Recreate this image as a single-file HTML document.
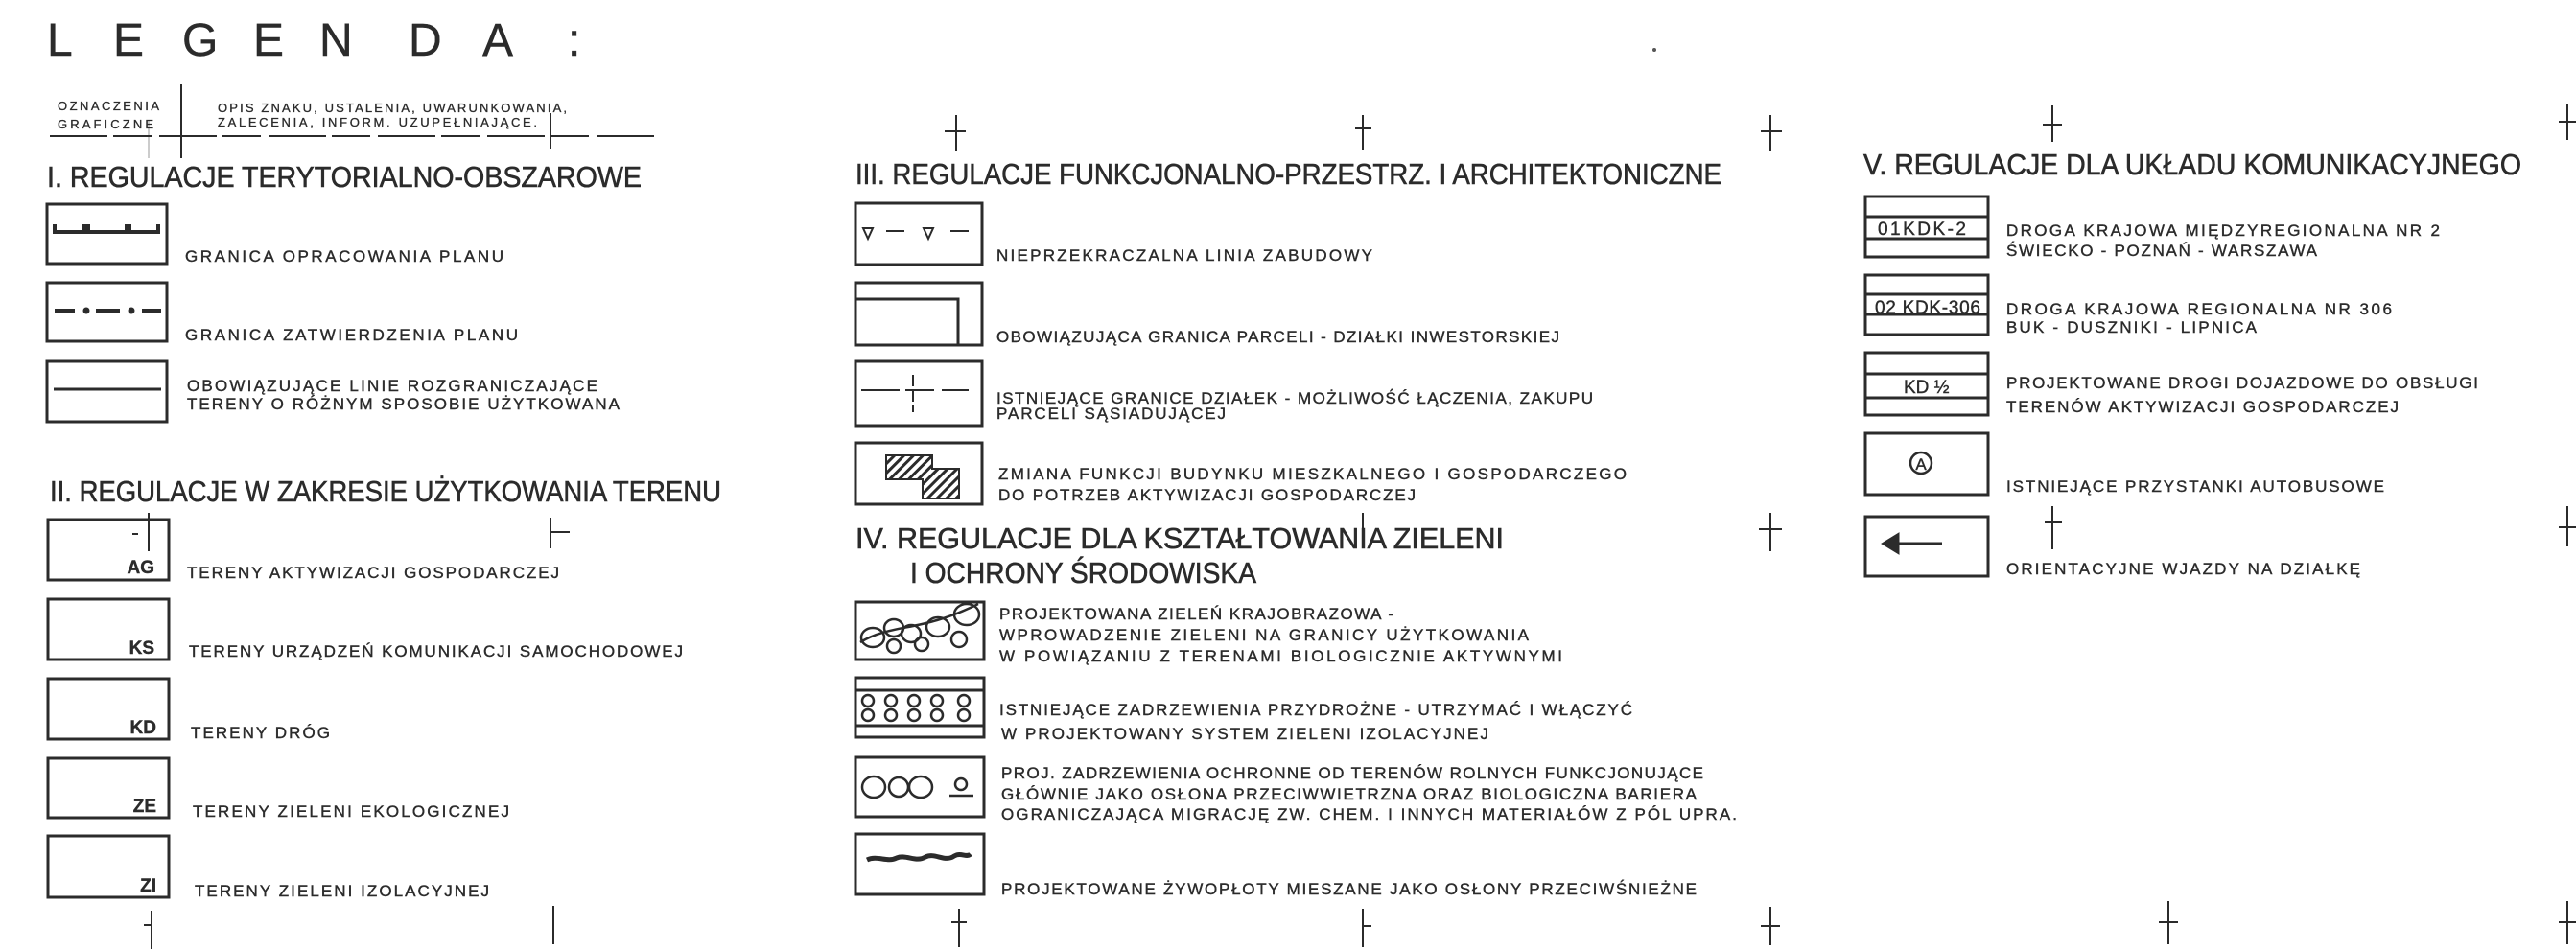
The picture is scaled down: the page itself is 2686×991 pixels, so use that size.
<!DOCTYPE html>
<html><head><meta charset="utf-8">
<style>
html,body{margin:0;padding:0;background:#fff;}
svg{display:block;}
text{font-family:"Liberation Sans",sans-serif;fill:#2b2b2b;stroke:#2b2b2b;stroke-width:0.4;}
.t{font-size:17px;}
.h{font-size:31px;stroke-width:0.6;}
.s{font-size:13px;stroke-width:0.3;}
.lb{font-size:19px;font-weight:bold;}
.lr{font-size:19px;}
</style></head><body>
<svg width="2686" height="991" viewBox="0 0 2686 991" xmlns="http://www.w3.org/2000/svg">
<defs>
<pattern id="hat" width="7" height="7" patternUnits="userSpaceOnUse" patternTransform="rotate(45)">
<rect width="7" height="7" fill="#fff"/><rect width="3" height="7" fill="#2b2b2b"/>
</pattern>
</defs>
<g stroke="#2b2b2b" fill="none" stroke-width="3">
<line x1="189" y1="88" x2="189" y2="165" stroke-width="2"/>
<line x1="155" y1="125" x2="155" y2="165" stroke-width="1" stroke="#999"/>
<line x1="52" y1="142" x2="683" y2="142" stroke-width="2" stroke-dasharray="60 6 40 8"/>
<line x1="574" y1="118" x2="574" y2="155" stroke-width="2"/>

<rect x="49" y="213" width="125" height="62"/>
<rect x="49" y="295" width="125" height="61"/>
<rect x="49" y="377" width="125" height="63"/>
<path d="M57 234V242H88V234M92 234V242H132V234M135 234V242H165V234" stroke-width="4"/>
<path d="M57 324H78M100 324H125M148 324H168" stroke-width="4"/>
<circle cx="90" cy="324" r="2" fill="#2b2b2b"/><circle cx="137" cy="324" r="2" fill="#2b2b2b"/>
<line x1="56" y1="406" x2="168" y2="406"/>

<rect x="50" y="542" width="126" height="63"/>
<rect x="50" y="625" width="126" height="63"/>
<rect x="50" y="708" width="126" height="63"/>
<rect x="50" y="791" width="126" height="62"/>
<rect x="50" y="872" width="126" height="64"/>
<line x1="155" y1="535" x2="155" y2="575" stroke-width="2"/>
<line x1="138" y1="557" x2="144" y2="557" stroke-width="2"/>

<rect x="892" y="212" width="132" height="64"/>
<rect x="892" y="295" width="132" height="65"/>
<rect x="892" y="377" width="132" height="67"/>
<rect x="892" y="462" width="132" height="64"/>
<path d="M900 238H910L905 249Z M963 238H973L968 249Z" stroke-width="2"/>
<path d="M924 241H943M991 241H1010" stroke-width="2"/>
<path d="M892 312H999V360"/>
<path d="M898 407H1010" stroke-width="2" stroke-dasharray="40 6 30 8"/>
<path d="M952 391V430" stroke-width="2" stroke-dasharray="12 4"/>
<path d="M924 475H972V489H1000V520H962V500H924Z" fill="url(#hat)" stroke-width="2"/>

<rect x="892" y="628" width="134" height="60"/>
<rect x="892" y="707" width="134" height="62"/>
<rect x="892" y="790" width="134" height="62"/>
<rect x="892" y="870" width="134" height="63"/>
<g stroke-width="2.5">
<ellipse cx="910" cy="665" rx="12" ry="10"/><ellipse cx="932" cy="655" rx="10" ry="9"/>
<circle cx="932" cy="674" r="7"/><ellipse cx="950" cy="661" rx="10" ry="9"/>
<circle cx="961" cy="672" r="7"/><ellipse cx="978" cy="654" rx="12" ry="10"/>
<circle cx="1000" cy="667" r="8"/><ellipse cx="1008" cy="641" rx="13" ry="11"/>
<path d="M897 670C930 650 960 660 1020 630"/>
</g>
<line x1="892" y1="720" x2="1026" y2="720"/>
<line x1="892" y1="757" x2="1026" y2="757"/>
<g stroke-width="2.5">
<circle cx="905" cy="731" r="6"/><circle cx="905" cy="746" r="6"/>
<circle cx="929" cy="731" r="6"/><circle cx="929" cy="746" r="6"/>
<circle cx="953" cy="731" r="6"/><circle cx="953" cy="746" r="6"/>
<circle cx="977" cy="731" r="6"/><circle cx="977" cy="746" r="6"/>
<circle cx="1005" cy="731" r="6"/><circle cx="1005" cy="746" r="6"/>
</g>
<g stroke-width="2.5">
<ellipse cx="911" cy="821" rx="12" ry="11"/><ellipse cx="937" cy="821" rx="10" ry="10"/>
<ellipse cx="960" cy="821" rx="12" ry="11"/><circle cx="1002" cy="818" r="6"/>
<line x1="990" y1="830" x2="1015" y2="830"/>
</g>
<path d="M904 897C915 892 925 900 935 895C945 891 955 900 965 894C975 889 985 900 995 893C1002 889 1008 895 1012 891" stroke-width="5"/>

<rect x="1945" y="205" width="128" height="63"/>
<line x1="1945" y1="226" x2="2073" y2="226"/><line x1="1945" y1="249" x2="2073" y2="249"/>
<rect x="1945" y="287" width="128" height="62"/>
<line x1="1945" y1="307" x2="2073" y2="307"/><line x1="1945" y1="328" x2="2073" y2="328"/>
<rect x="1945" y="368" width="128" height="65"/>
<line x1="1945" y1="390" x2="2073" y2="390"/><line x1="1945" y1="415" x2="2073" y2="415"/>
<rect x="1945" y="452" width="128" height="64"/>
<circle cx="2003" cy="483" r="11" stroke-width="2.5"/>
<rect x="1945" y="539" width="128" height="62"/>
<line x1="1975" y1="567" x2="2025" y2="567"/>
<path d="M1962 567L1980 556L1980 578Z" fill="#2b2b2b" stroke-width="1"/>

<g stroke-width="2">
<path d="M158 950V990M150 965H158"/>
<path d="M577 945V985"/>
<path d="M574 540V572M574 555H594"/>
<path d="M997 120V158M985 137H1007"/>
<path d="M1421 120V156M1413 134H1430"/>
<path d="M1846 120V158M1836 137H1858"/>
<path d="M1421 535V572"/>
<path d="M1846 535V575M1834 552H1858"/>
<path d="M1000 948V988M992 962H1008"/>
<path d="M1421 948V988M1421 966H1430"/>
<path d="M1846 946V986M1836 966H1856"/>
<path d="M2140 110V148M2130 130H2150"/>
<path d="M2677 108V146M2668 127H2686"/>
<path d="M2140 528V573M2132 545H2150"/>
<path d="M2677 528V570M2668 550H2686"/>
<path d="M2261 940V985M2251 962H2271"/>
<path d="M2677 940V985M2668 962H2686"/>
</g>
</g>
<circle cx="1725" cy="52" r="2" fill="#555"/>

<g font-size="48">
<text x="49" y="58">L</text><text x="118" y="58">E</text><text x="190" y="58">G</text>
<text x="264" y="58">E</text><text x="333" y="58">N</text><text x="426" y="58">D</text>
<text x="503" y="58">A</text><text x="592" y="58">:</text>
</g>
<text class="s" x="60" y="115" textLength="106">OZNACZENIA</text>
<text class="s" x="60" y="134" textLength="100">GRAFICZNE</text>
<text class="s" x="227" y="117" textLength="364">OPIS ZNAKU, USTALENIA, UWARUNKOWANIA,</text>
<text class="s" x="227" y="132" textLength="333">ZALECENIA, INFORM. UZUPEŁNIAJĄCE.</text>

<text class="h" x="49" y="195" textLength="620" lengthAdjust="spacingAndGlyphs">I. REGULACJE TERYTORIALNO-OBSZAROWE</text>
<text class="h" x="52" y="523" textLength="700" lengthAdjust="spacingAndGlyphs">II. REGULACJE W ZAKRESIE UŻYTKOWANIA TERENU</text>
<text class="h" x="892" y="192" textLength="903" lengthAdjust="spacingAndGlyphs">III. REGULACJE FUNKCJONALNO-PRZESTRZ. I ARCHITEKTONICZNE</text>
<text class="h" x="892" y="572" textLength="676" lengthAdjust="spacingAndGlyphs">IV. REGULACJE DLA KSZTAŁTOWANIA ZIELENI</text>
<text class="h" x="949" y="608" textLength="361" lengthAdjust="spacingAndGlyphs">I OCHRONY ŚRODOWISKA</text>
<text class="h" x="1943" y="182" textLength="686" lengthAdjust="spacingAndGlyphs">V. REGULACJE DLA UKŁADU KOMUNIKACYJNEGO</text>

<text class="t" x="193" y="273" textLength="332">GRANICA OPRACOWANIA PLANU</text>
<text class="t" x="193" y="355" textLength="347">GRANICA ZATWIERDZENIA PLANU</text>
<text class="t" x="195" y="408" textLength="428">OBOWIĄZUJĄCE LINIE ROZGRANICZAJĄCE</text>
<text class="t" x="195" y="427" textLength="451">TERENY O RÓŻNYM SPOSOBIE UŻYTKOWANA</text>

<text class="lb" x="161" y="598" text-anchor="end">AG</text>
<text class="lb" x="161" y="682" text-anchor="end">KS</text>
<text class="lb" x="163" y="765" text-anchor="end">KD</text>
<text class="lb" x="163" y="847" text-anchor="end">ZE</text>
<text class="lb" x="163" y="930" text-anchor="end">ZI</text>
<text class="t" x="195" y="603" textLength="388">TERENY AKTYWIZACJI GOSPODARCZEJ</text>
<text class="t" x="197" y="685" textLength="515">TERENY URZĄDZEŃ KOMUNIKACJI SAMOCHODOWEJ</text>
<text class="t" x="199" y="770" textLength="145">TERENY DRÓG</text>
<text class="t" x="201" y="852" textLength="330">TERENY ZIELENI EKOLOGICZNEJ</text>
<text class="t" x="203" y="935" textLength="307">TERENY ZIELENI IZOLACYJNEJ</text>

<text class="t" x="1039" y="272" textLength="392">NIEPRZEKRACZALNA LINIA ZABUDOWY</text>
<text class="t" x="1039" y="357" textLength="587">OBOWIĄZUJĄCA GRANICA PARCELI - DZIAŁKI INWESTORSKIEJ</text>
<text class="t" x="1039" y="421" textLength="622">ISTNIEJĄCE GRANICE DZIAŁEK - MOŻLIWOŚĆ ŁĄCZENIA, ZAKUPU</text>
<text class="t" x="1039" y="437" textLength="239">PARCELI SĄSIADUJĄCEJ</text>
<text class="t" x="1041" y="500" textLength="655">ZMIANA FUNKCJI BUDYNKU MIESZKALNEGO I GOSPODARCZEGO</text>
<text class="t" x="1041" y="522" textLength="435">DO POTRZEB AKTYWIZACJI GOSPODARCZEJ</text>

<text class="t" x="1042" y="646" textLength="411">PROJEKTOWANA ZIELEŃ KRAJOBRAZOWA -</text>
<text class="t" x="1042" y="668" textLength="552">WPROWADZENIE ZIELENI NA GRANICY UŻYTKOWANIA</text>
<text class="t" x="1042" y="690" textLength="587">W POWIĄZANIU Z TERENAMI BIOLOGICZNIE AKTYWNYMI</text>
<text class="t" x="1042" y="746" textLength="660">ISTNIEJĄCE ZADRZEWIENIA PRZYDROŻNE - UTRZYMAĆ I WŁĄCZYĆ</text>
<text class="t" x="1044" y="771" textLength="508">W PROJEKTOWANY SYSTEM ZIELENI IZOLACYJNEJ</text>
<text class="t" x="1044" y="812" textLength="732">PROJ. ZADRZEWIENIA OCHRONNE OD TERENÓW ROLNYCH FUNKCJONUJĄCE</text>
<text class="t" x="1044" y="834" textLength="725">GŁÓWNIE JAKO OSŁONA PRZECIWWIETRZNA ORAZ BIOLOGICZNA BARIERA</text>
<text class="t" x="1044" y="855" textLength="767">OGRANICZAJĄCA MIGRACJĘ ZW. CHEM. I INNYCH MATERIAŁÓW Z PÓL UPRA.</text>
<text class="t" x="1044" y="933" textLength="725">PROJEKTOWANE ŻYWOPŁOTY MIESZANE JAKO OSŁONY PRZECIWŚNIEŻNE</text>

<text class="lr" x="1958" y="245" textLength="92">01KDK-2</text>
<text class="lr" x="1955" y="327" textLength="110">02 KDK-306</text>
<text class="lr" x="1985" y="410">KD ½</text>
<text x="2003" y="490" font-size="17" text-anchor="middle">A</text>
<text class="t" x="2092" y="246" textLength="452">DROGA KRAJOWA MIĘDZYREGIONALNA NR 2</text>
<text class="t" x="2092" y="267" textLength="324">ŚWIECKO - POZNAŃ - WARSZAWA</text>
<text class="t" x="2092" y="328" textLength="402">DROGA KRAJOWA REGIONALNA NR 306</text>
<text class="t" x="2092" y="347" textLength="261">BUK - DUSZNIKI - LIPNICA</text>
<text class="t" x="2092" y="405" textLength="492">PROJEKTOWANE DROGI DOJAZDOWE DO OBSŁUGI</text>
<text class="t" x="2092" y="430" textLength="409">TERENÓW AKTYWIZACJI GOSPODARCZEJ</text>
<text class="t" x="2092" y="513" textLength="394">ISTNIEJĄCE PRZYSTANKI AUTOBUSOWE</text>
<text class="t" x="2092" y="599" textLength="369">ORIENTACYJNE WJAZDY NA DZIAŁKĘ</text>
</svg>
</body></html>
